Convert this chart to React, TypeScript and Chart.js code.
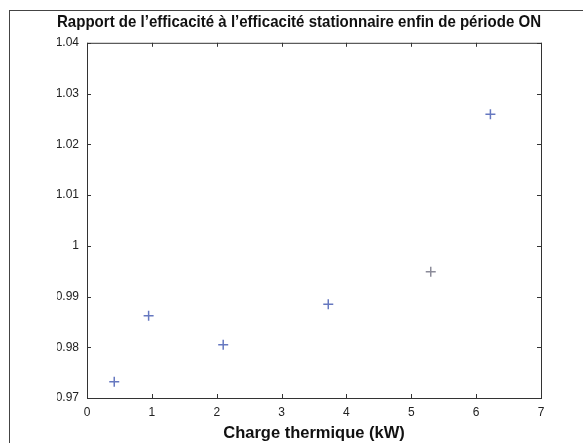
import React, { useEffect, useRef } from "react";
import { Chart, registerables } from "chart.js";

Chart.register(...registerables);

const chartTitle = "Rapport de l’efficacité à l’efficacité stationnaire enfin de période ON";
const xTitle = "Charge thermique (kW)";
const chargeKW = [0.42, 0.95, 2.1, 3.72, 5.3, 6.22];
const ratio = [0.9732, 0.9862, 0.9805, 0.9885, 0.9949, 1.0259];
const xTicks = [0, 1, 2, 3, 4, 5, 6, 7];
const yTicks = [0.97, 0.98, 0.99, 1.0, 1.01, 1.02, 1.03, 1.04];

const framePlugin = {
  id: "frameTicks",
  afterDraw(chart: any) {
    const { ctx, chartArea } = chart;
    const { left, right, top, bottom } = chartArea;
    const xs = chart.scales.x;
    const ys = chart.scales.y;
    ctx.save();
    ctx.strokeStyle = "#333";
    ctx.lineWidth = 1;
    ctx.strokeRect(left + 0.5, top + 0.5, right - left, bottom - top);
    const tl = 4;
    ctx.beginPath();
    xTicks.forEach((v) => {
      const px = Math.round(xs.getPixelForValue(v)) + 0.5;
      ctx.moveTo(px, bottom);
      ctx.lineTo(px, bottom - tl);
      ctx.moveTo(px, top);
      ctx.lineTo(px, top + tl);
    });
    yTicks.forEach((v) => {
      const py = Math.round(ys.getPixelForValue(v)) + 0.5;
      ctx.moveTo(left, py);
      ctx.lineTo(left + tl, py);
      ctx.moveTo(right, py);
      ctx.lineTo(right - tl, py);
    });
    ctx.stroke();
    ctx.restore();
  },
};

export default function App() {
  const ref = useRef<HTMLCanvasElement | null>(null);
  useEffect(() => {
    document.body.style.margin = "0";
    const canvas = ref.current;
    if (!canvas) return;
    const chart = new Chart(canvas, {
      type: "scatter",
      data: {
        datasets: [
          {
            label: "ratio",
            data: chargeKW.map((x, i) => ({ x, y: ratio[i] })),
            pointStyle: "cross",
            pointRadius: 5,
            pointBorderWidth: 1.5,
            pointBorderColor: (c: any) => (c.dataIndex === 4 ? "rgba(90,90,110,0.7)" : "#6678c0"),
            pointBackgroundColor: "#6678c0",
          },
        ],
      },
      plugins: [framePlugin],
      options: {
        animation: false,
        responsive: false,
        maintainAspectRatio: false,
        layout: { padding: { left: 57, right: 42, top: 0, bottom: 0 } },
        plugins: {
          legend: { display: false },
          tooltip: { enabled: false },
          title: {
            display: true,
            text: chartTitle,
            color: "#111",
            font: { family: "Liberation Sans, Arial, sans-serif", size: 16.5, weight: "bold" },
            padding: { top: 13, bottom: 10 },
          },
        },
        scales: {
          x: {
            type: "linear",
            min: 0,
            max: 7,
            afterBuildTicks: (s: any) => {
              s.ticks = xTicks.map((v) => ({ value: v }));
            },
            afterFit: (s: any) => {
              s.height = 45;
            },
            grid: { display: false, drawTicks: false },
            border: { display: false },
            ticks: {
              padding: 7,
              color: "#222",
              font: { family: "Liberation Sans, Arial, sans-serif", size: 12 },
              callback: (v: any) => String(v),
            },
            title: {
              display: true,
              text: xTitle,
              color: "#111",
              font: { family: "Liberation Sans, Arial, sans-serif", size: 16.5, weight: "bold" },
              padding: { top: 0, bottom: 0 },
            },
          },
          y: {
            type: "linear",
            min: 0.97,
            max: 1.04,
            afterBuildTicks: (s: any) => {
              s.ticks = yTicks.map((v) => ({ value: v }));
            },
            afterFit: (s: any) => {
              s.width = 30;
            },
            grid: { display: false, drawTicks: false },
            border: { display: false },
            ticks: {
              padding: 8,
              color: "#222",
              font: { family: "Liberation Sans, Arial, sans-serif", size: 12 },
              callback: (v: any) => String(Number(Number(v).toFixed(2))),
            },
          },
        },
      },
    } as any);
    return () => chart.destroy();
  }, []);
  return (
    <div style={{ position: "relative", width: 583, height: 443, background: "#fff", overflow: "hidden" }}>
      <canvas ref={ref} width={583} height={443} style={{ display: "block" }} />
      <div
        style={{
          position: "absolute",
          left: 9,
          top: 10,
          width: 600,
          height: 500,
          borderLeft: "1px solid #444",
          borderTop: "1px solid #444",
          pointerEvents: "none",
        }}
      />
    </div>
  );
}
